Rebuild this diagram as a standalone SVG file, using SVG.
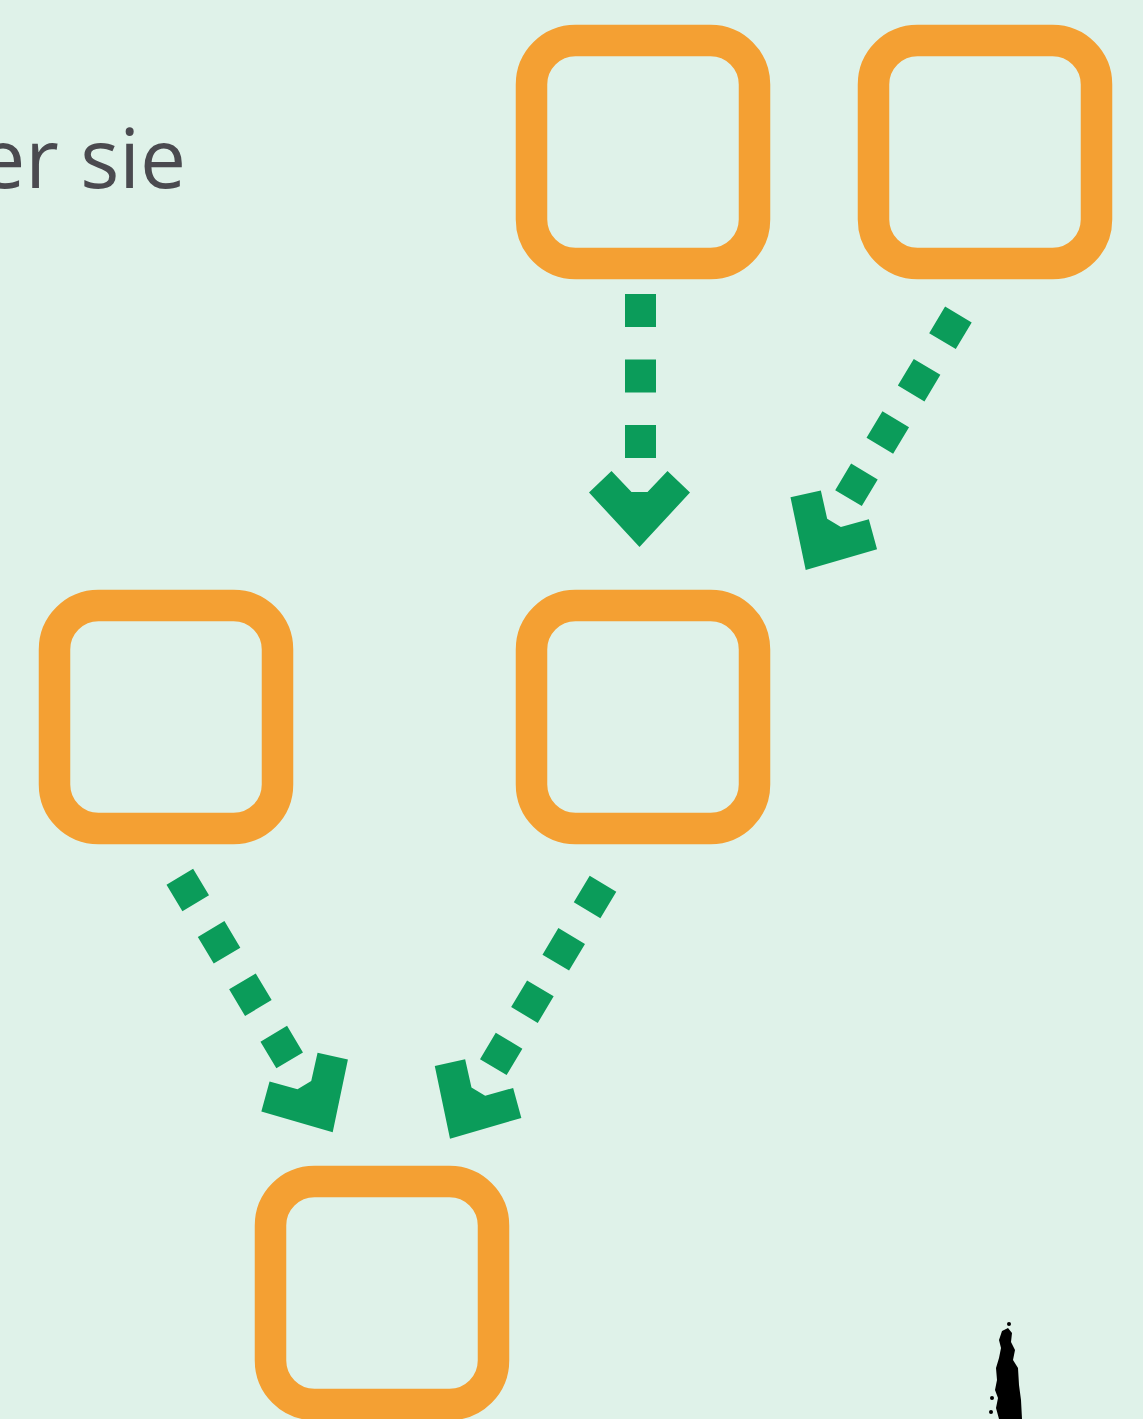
<svg xmlns="http://www.w3.org/2000/svg" width="1143" height="1419" viewBox="0 0 1143 1419">
<style>
.box{fill:none;stroke:#f4a033;stroke-width:31.5}
.dash{stroke:#0b9c5a;stroke-width:31;fill:none}
.head{fill:#0b9c5a}
.lbl{font-family:"Open Sans","Liberation Sans",sans-serif;font-size:82px;fill:#4a4a4f}
</style>
<defs>
<polygon id="ah" points="0,0 -50.5,-54.5 -28,-76 -8,-55 8,-55 28,-76 50.5,-54.5"/>
</defs>
<rect x="0" y="0" width="1143" height="1419" fill="#dff2e9"/>
<text class="lbl" x="186" y="188" text-anchor="end">er sie</text>
<g id="node-top-middle"><rect class="box" x="531.5" y="40.5" width="223" height="223" rx="44"/></g>
<g id="node-top-right"><rect class="box" x="873.5" y="40.5" width="223" height="223" rx="44"/></g>
<g id="node-mid-left"><rect class="box" x="54.5" y="605.5" width="223" height="223" rx="44"/></g>
<g id="node-mid-middle"><rect class="box" x="531.5" y="605.5" width="223" height="223" rx="44"/></g>
<g id="node-bottom"><rect class="box" x="270.5" y="1181.5" width="223" height="223" rx="44"/></g>
<g id="connectors">
<line class="dash" x1="640.5" y1="294" x2="640.5" y2="458" stroke-width="32" stroke-dasharray="33 32.5"/>
<use href="#ah" class="head" transform="translate(639.5,547)"/>
<line class="dash" x1="958.4" y1="314.5" x2="848.5" y2="498.1" stroke-dasharray="31 30"/>
<use href="#ah" class="head" transform="translate(805.7,570) rotate(31)"/>
<line class="dash" x1="179.8" y1="876.7" x2="289.7" y2="1060.4" stroke-dasharray="31 30"/>
<use href="#ah" class="head" transform="translate(332.7,1132.3) rotate(-31)"/>
<line class="dash" x1="603" y1="883.7" x2="493.3" y2="1067.1" stroke-dasharray="31 30"/>
<use href="#ah" class="head" transform="translate(450,1138.7) rotate(31)"/>
</g>
<g id="blob" fill="#000">
<circle cx="1009" cy="1324" r="2"/>
<path d="M1002,1331 L1008,1328 L1012,1333 L1011,1342 L1015,1350 L1013,1360 L1018,1368 L1019,1385 L1021,1400 L1022,1419 L999,1419 L996,1408 L998,1398 L995,1390 L997,1380 L996,1368 L999,1358 L1001,1348 L999,1340 Z"/>
<circle cx="992" cy="1398" r="2"/>
<circle cx="991" cy="1412" r="2"/>
</g>
</svg>
